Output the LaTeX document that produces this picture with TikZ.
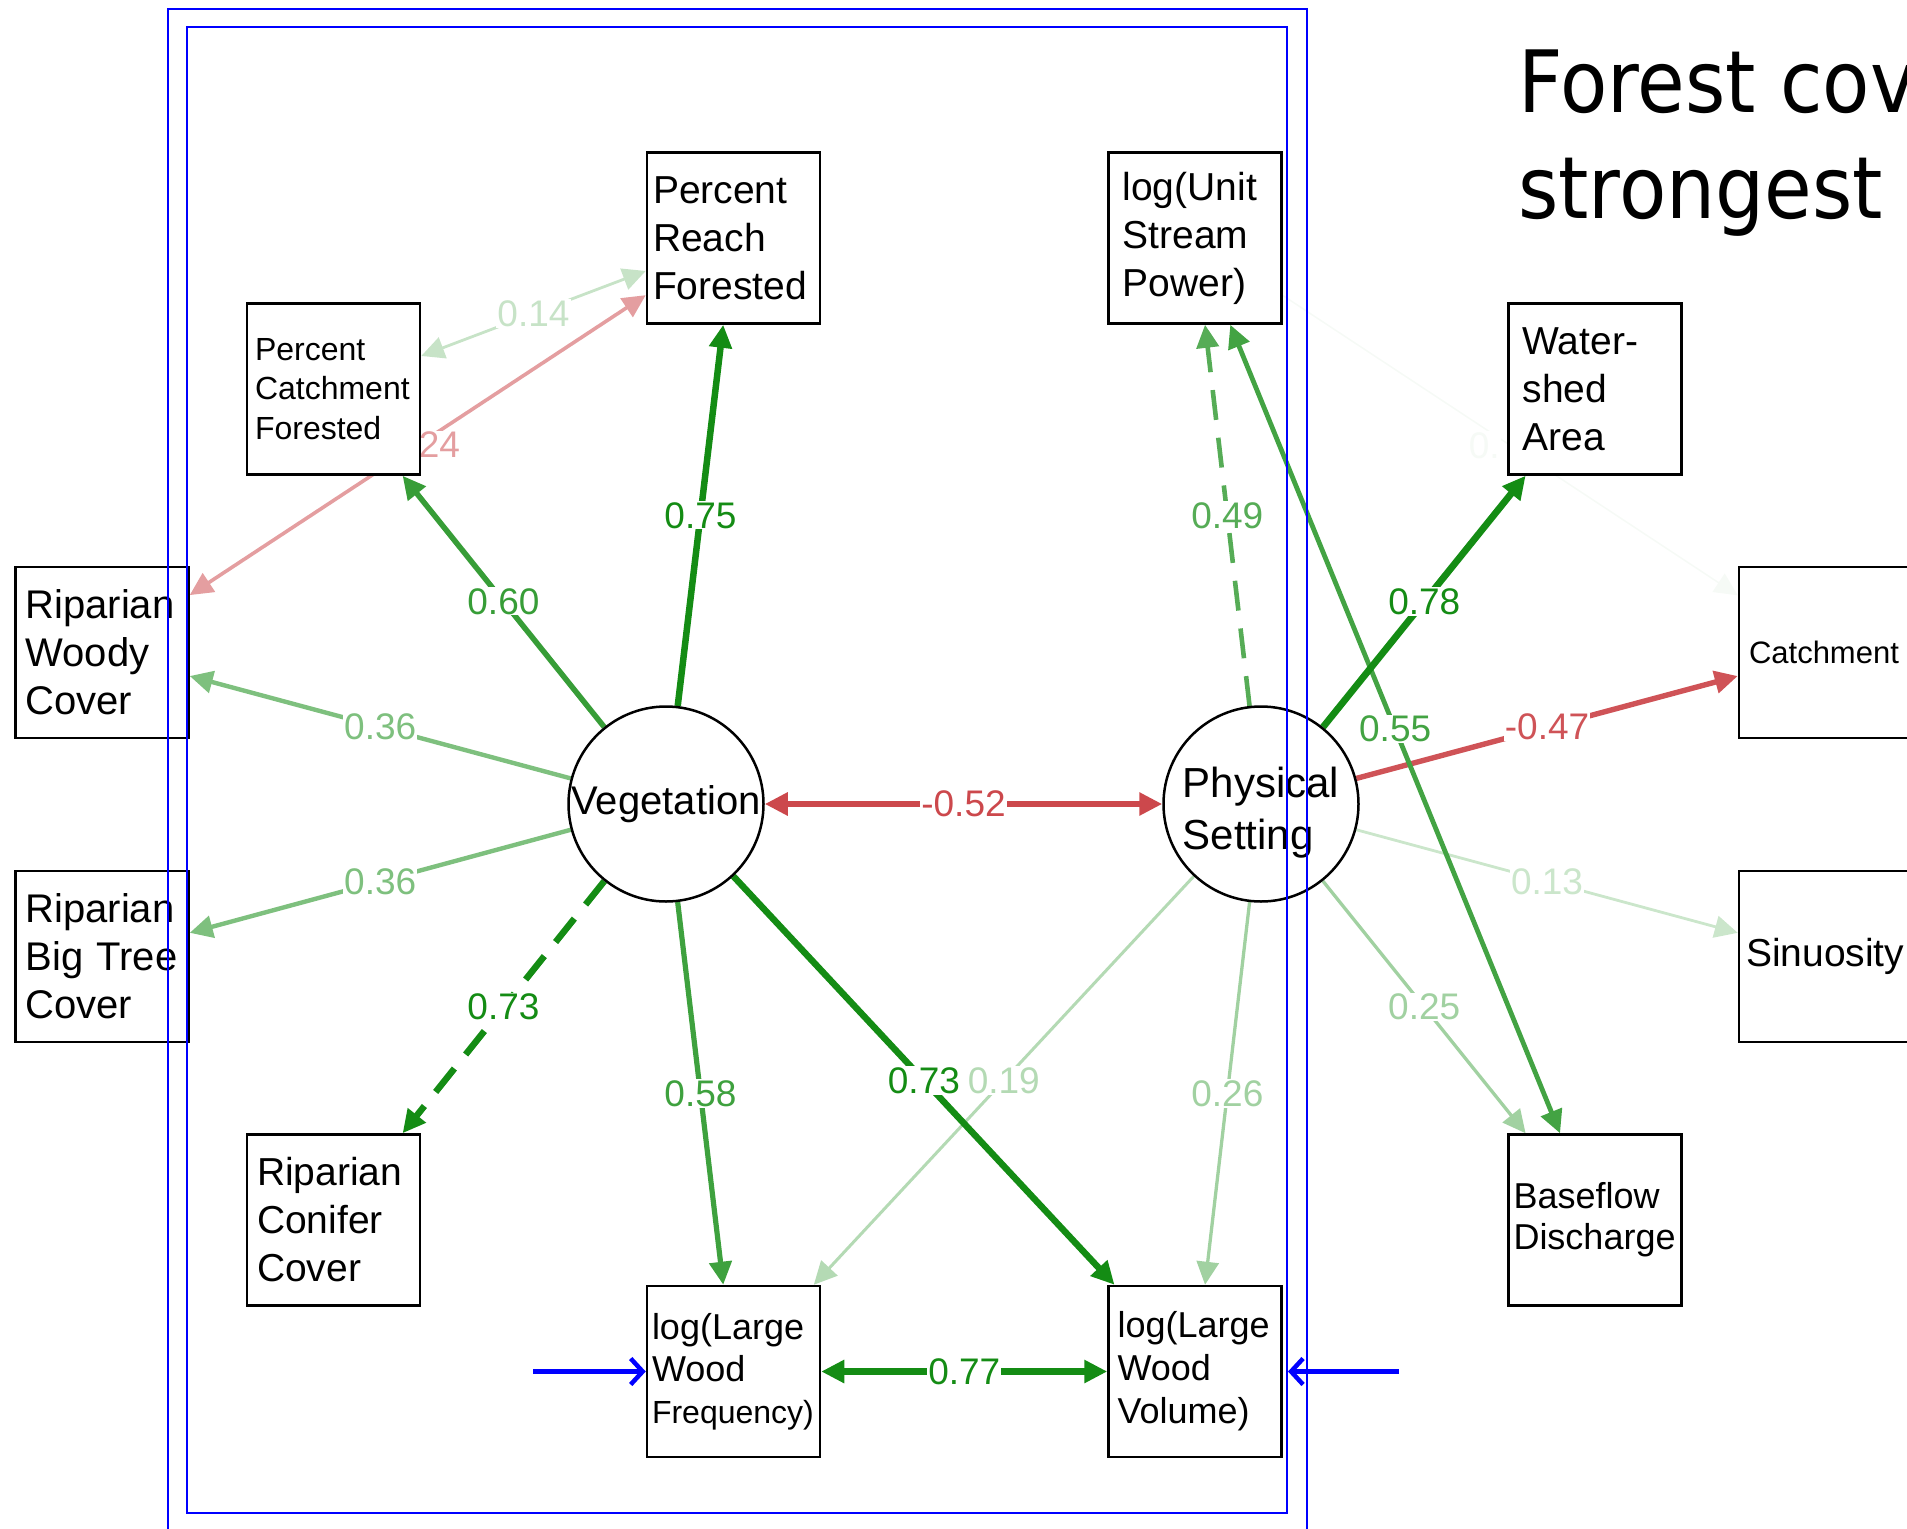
\documentclass[tikz,border=0pt]{standalone}
\usepackage{fontspec}
\setmainfont{Liberation Sans}
\newfontfamily\titlefont[FakeStretch=0.9]{DejaVu Sans}
\usetikzlibrary{arrows.meta, backgrounds}
\definecolor{pathgreen}{RGB}{20,140,20}
\definecolor{pathred}{RGB}{195,40,45}
\definecolor{frameblue}{RGB}{0,0,255}

\begin{document}
\begin{tikzpicture}[x=1pt, y=-1pt,
  var/.style={draw, line width=2.5pt, fill=white, minimum width=173pt, minimum height=171pt, inner xsep=10pt, text width=153pt, align=left, font=\fontsize{39pt}{48pt}\selectfont},
  lat/.style={draw, circle, line width=2.5pt, fill=white, minimum size=195pt, inner sep=0pt, align=left, font=\fontsize{40pt}{52pt}\selectfont},
  coef/.style={fill=white, inner sep=1pt, font=\fontsize{37pt}{40pt}\selectfont},
  gp/.style={color=pathgreen!#1!white},
  rp/.style={color=pathred!#1!white},
  onehead/.style={-{Triangle[length=23pt,width=22pt]}},
  twohead/.style={{Triangle[length=23pt,width=22pt]}-{Triangle[length=23pt,width=22pt]}},
  dashlink/.style={dash pattern=on 30pt off 18pt},
  boxframe/.style={draw=frameblue, line width=2pt, inner sep=0pt},
  inarr/.style={frameblue, line width=4.5pt, -{Straight Barb[length=12pt,width=26pt]}},
]
  \useasboundingbox (0,0) rectangle (1907,1529);
  \clip (0,0) rectangle (1907,1529);

  % latent variables
  \node[lat] (veg) at (666,804) {Vegetation};
  \node[lat] (phys) at (1261,804) {};
  \node[align=left, inner sep=0pt, font=\fontsize{42pt}{52pt}\selectfont] (physname) at ([yshift=-9pt]phys.center) {Physical\\Setting};

  % observed variables
  \node[var, inner xsep=6pt, text width=161pt] (prf) at (733.5,238) {Percent\\Reach\\Forested};
  \node[var, inner xsep=14pt, text width=145pt] (usp) at (1195,238) {log(Unit\\Stream\\Power)};
  \node[var, inner xsep=8pt, text width=157pt, font=\fontsize{32pt}{39.5pt}\selectfont] (pcf) at (333.5,389) {Percent\\Catchment\\Forested};
  \node[var, inner xsep=14pt, text width=145pt] (wsa) at (1595,389) {Water-\\shed\\Area};
  \node[var, font=\fontsize{40pt}{48pt}\selectfont] (rwc) at (102,652.5) {Riparian\\Woody\\Cover};
  \node[var, font=\fontsize{31pt}{38pt}\selectfont] (cat) at (1825.5,652.5) {Catchment};
  \node[var, font=\fontsize{40pt}{48pt}\selectfont] (rbt) at (102,956.5) {Riparian\\Big Tree\\Cover};
  \node[var, inner xsep=7pt, text width=159pt] (sin) at (1825.5,956.5) {Sinuosity};
  \node[var] (rcc) at (333.5,1220) {Riparian\\Conifer\\Cover};
  \node[var, inner xsep=5pt, text width=163pt, font=\fontsize{36pt}{41pt}\selectfont] (bfd) at (1595,1220) {Baseflow\\Discharge};
  \node[var, inner xsep=5pt, text width=163pt, font=\fontsize{36pt}{42pt}\selectfont] (lwf) at (733.5,1371.5) {log(Large\\Wood\\{\fontsize{32pt}{42pt}\selectfont Frequency)}};
  \node[var, inner xsep=9pt, text width=155pt, font=\fontsize{36pt}{43pt}\selectfont] (lwv) at (1195,1371.5) {log(Large\\Wood\\Volume)};

  % paths, weakest first
  \begin{scope}[on background layer]
    \draw[gp=4, line width=1.5pt, onehead] (usp) -- node[coef, xshift=-26pt]{0.} (cat);
    \draw[gp=22, line width=2.8pt, onehead] (phys) -- node[coef]{0.13} (sin);
    \draw[gp=24, line width=2.8pt, twohead] (pcf) -- node[coef]{0.14} (prf);
    \draw[gp=32, line width=3pt, onehead] (phys) -- node[coef]{0.19} (lwf);
    \draw[rp=45, line width=3.6pt, twohead] (rwc) -- node[coef]{-0.24} (prf);
    \draw[gp=40, line width=3.3pt, onehead] (phys) -- node[coef]{0.25} (bfd);
    \draw[gp=40, line width=3.3pt, onehead] (phys) -- node[coef]{0.26} (lwv);
    \draw[gp=55, line width=4.4pt, onehead] (veg) -- node[coef]{0.36} (rwc);
    \draw[gp=55, line width=4.4pt, onehead] (veg) -- node[coef]{0.36} (rbt);
    \draw[rp=80, line width=5.4pt, onehead] (phys) -- node[coef]{-0.47} (cat);
    \draw[gp=72, line width=4.6pt, dashlink, onehead] (phys) -- node[coef]{0.49} (usp);
    \draw[rp=85, line width=5.8pt, twohead] (veg) -- node[coef]{-0.52} (phys);
    \draw[gp=80, line width=4.8pt, twohead] (usp) -- node[coef]{0.55} (bfd);
    \draw[gp=82, line width=5.2pt, onehead] (veg) -- node[coef]{0.58} (lwf);
    \draw[gp=85, line width=5.5pt, onehead] (veg) -- node[coef]{0.60} (pcf);
    \draw[gp=100, line width=6.5pt, dashlink, onehead] (veg) -- node[coef]{0.73} (rcc);
    \draw[gp=100, line width=6.5pt, onehead] (veg) -- node[coef]{0.73} (lwv);
    \draw[gp=100, line width=6.5pt, onehead] (veg) -- node[coef]{0.75} (prf);
    \draw[gp=100, line width=7pt, twohead] (lwf) -- node[coef]{0.77} (lwv);
    \draw[gp=100, line width=6.8pt, onehead] (phys) -- node[coef]{0.78} (wsa);
  \end{scope}

  % slide overlay
  \node[boxframe, minimum width=1139pt, minimum height=1560pt] (slideframe) at (737.5,788.5) {};
  \node[boxframe, minimum width=1100pt, minimum height=1486pt] (plotframe) at (737,770) {};
  \coordinate (inL) at (533,1371.5);
  \coordinate (inR) at (1399,1371.5);
  \draw[inarr] (inL) -- (lwf);
  \draw[inarr] (inR) -- (plotframe.east |- inR);

  \node[anchor=base west, inner sep=0pt, font=\titlefont\fontsize{86pt}{104pt}\selectfont] (title) at (1518,112) {Forest cov};
  \node[anchor=base west, inner sep=0pt, font=\titlefont\fontsize{86pt}{104pt}\selectfont] (title2) at (1518,218) {strongest};
\end{tikzpicture}
\end{document}
